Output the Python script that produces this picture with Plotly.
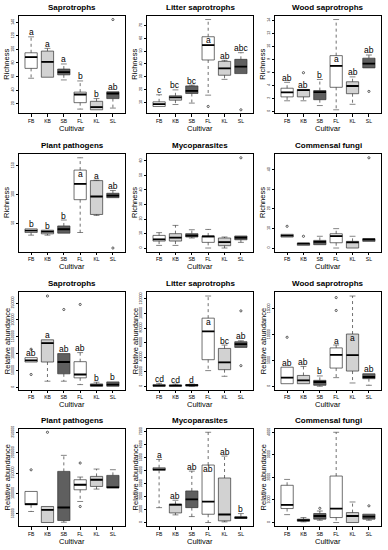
import plotly.graph_objects as go

CULTIVARS = ["FB", "KB", "SB", "FL", "KL", "SL"]
FILLS = ["#ffffff", "#d2d2d2", "#5f5f5f", "#ffffff", "#d2d2d2", "#5f5f5f"]

# ---------------- Richness ----------------
sap_rich = dict(
    lo=[57.5, 59, 55, 12, 11, 13.5],
    q1=[72, 59, 62.5, 21.5, 11, 27.5],
    med=[88.5, 81.5, 66.5, 33.5, 15, 35],
    q3=[95, 97.5, 71, 37, 23.5, 37.5],
    hi=[118.5, 101.5, 78.5, 53.5, 27.5, 37.5],
    out=[[], [], [], [], [], [144]],
    letters=["a", "a", "a", "b", "b", "ab"],
)
litter_rich = dict(
    lo=[6.9, 8.4, 9.5, 15.7, 28, 32.5],
    q1=[6.9, 11.8, 17, 43.1, 31.2, 32.5],
    med=[8.7, 13.9, 19, 54.7, 36.6, 37.9],
    q3=[10.5, 15.2, 22.9, 61.2, 42, 43.6],
    hi=[16, 19.8, 23.5, 74.6, 42.8, 48.8],
    out=[[], [], [], [6.9], [], [4.3]],
    letters=["c", "bc", "bc", "a", "ab", "abc"],
)
wood_rich = dict(
    lo=[1.63, 1.63, 0.9, 0.25, 1.09, 6.68],
    q1=[2.23, 2.23, 1.8, 3.7, 2.72, 6.68],
    med=[2.92, 3.27, 2.97, 6.98, 3.9, 7.33],
    q3=[3.56, 3.37, 3.2, 8.56, 4.55, 8.17],
    hi=[4.46, 3.37, 4.9, 14.1, 5.3, 8.66],
    out=[[], [5.94], [], [], [], [3.07]],
    letters=["ab", "ab", "b", "a", "ab", "ab"],
)
path_rich = dict(
    lo=[29.4, 29.4, 32.9, 34, 63.7, 94.6],
    q1=[34, 31.7, 32.9, 91.1, 65.4, 94.6],
    med=[37.4, 35.7, 39.7, 118.6, 96.6, 98.3],
    q3=[40.3, 38, 45.4, 142.6, 124.3, 102.3],
    hi=[40.3, 38, 55.7, 164, 125, 107],
    out=[[], [], [], [], [], [7]],
    letters=["b", "b", "b", "a", "a", "ab"],
)
myco_rich = dict(
    lo=[1.8, 1.8, 6.9, 0, 0, 3.9],
    q1=[4.8, 4.8, 7.6, 3.9, 1.6, 5.7],
    med=[6.0, 7.1, 8.5, 8.0, 4.1, 7.1],
    q3=[8.7, 9.9, 9.9, 8.3, 6.9, 8.3],
    hi=[10.6, 15.6, 12.6, 12.8, 7.6, 8.3],
    out=[[], [], [], [], [], [62.2]],
    letters=None,
)
comm_rich = dict(
    lo=[5.6, 1.36, 1.7, 0, 0, 3.4],
    q1=[5.6, 1.36, 1.7, 2.7, 0, 3.4],
    med=[6.3, 2.2, 3.1, 6.1, 2.9, 4.4],
    q3=[7.0, 2.55, 3.9, 7.3, 3.4, 4.8],
    hi=[7.0, 2.55, 6.0, 9.9, 6.0, 4.8],
    out=[[11.1], [6.0], [], [], [], [46.1]],
    letters=None,
)

# ---------------- Relative abundance ----------------
sap_ra = dict(
    lo=[75000, 18000, 18000, 8000, 3000, 3000],
    q1=[75000, 75000, 40000, 28000, 3000, 3000],
    med=[80000, 131000, 75000, 38000, 6000, 8000],
    q3=[88000, 141000, 100000, 76000, 10000, 16000],
    hi=[88000, 141000, 100000, 103000, 15000, 16000],
    out=[[113000, 38000], [271000], [231000], [246000], [], []],
    letters=["ab", "a", "ab", "ab", "b", "b"],
)
litter_ra = dict(
    lo=[0, 0, 0, 21500, 13700, 53400],
    q1=[0, 0, 500, 36500, 22800, 53400],
    med=[900, 900, 1400, 75300, 32900, 58000],
    q3=[2300, 1800, 2300, 93600, 52000, 61200],
    hi=[4100, 3000, 3000, 124000, 56600, 62500],
    out=[[], [], [], [], [], [103600, 28300]],
    letters=["cd", "cd", "d", "a", "bc", "ab"],
)
wood_ra = dict(
    lo=[500, 500, 0, 1670, 640, 190],
    q1=[500, 500, 190, 3530, 2950, 1470],
    med=[1670, 1150, 830, 6100, 6030, 1800],
    q3=[3700, 2100, 1150, 7440, 10130, 2430],
    hi=[3700, 3850, 2000, 8000, 17500, 2430],
    out=[[9500], [], [], [17200, 14700], [], []],
    letters=["ab", "ab", "b", "a", "a", "ab"],
)
path_ra = dict(
    lo=[55700, 28700, 29500, 80300, 110700, 113900],
    q1=[72100, 28700, 33600, 109000, 117200, 113900],
    med=[74000, 59800, 65600, 121300, 133600, 114800],
    q3=[104900, 68000, 154100, 133600, 141800, 144300],
    hi=[104900, 68000, 193400, 140200, 159800, 158200],
    out=[[158000], [250000], [], [174600, 68000], [], []],
    letters=None,
)
myco_ra = dict(
    lo=[1150, 590, 460, 0, 50, 310],
    q1=[4030, 740, 1150, 640, 130, 310],
    med=[4100, 1380, 1790, 1620, 620, 380],
    q3=[4230, 1410, 2440, 4440, 3440, 440],
    hi=[4870, 1720, 3970, 6970, 5130, 690],
    out=[[], [], [], [], [], []],
    letters=["a", "ab", "ab", "ab", "ab", "b"],
)
comm_ra = dict(
    lo=[350, 30, 100, 0, 0, 100],
    q1=[620, 60, 150, 220, 0, 150],
    med=[780, 100, 290, 620, 290, 260],
    q3=[1650, 150, 400, 2060, 440, 370],
    hi=[1910, 220, 510, 4000, 910, 370],
    out=[[], [], [630], [], [], [740]],
    letters=None,
)

PANELS = [
    ("Saprotrophs", "Richness", sap_rich, 20, 20),
    ("Litter saprotrophs", "Richness", litter_rich, 10, 10),
    ("Wood saprotrophs", "Richness", wood_rich, 2, 0),
    ("Plant pathogens", "Richness", path_rich, 50, 50),
    ("Mycoparasites", "Richness", myco_rich, 10, 0),
    ("Commensal fungi", "Richness", comm_rich, 10, 0),
    ("Saprotrophs", "Relative abundance", sap_ra, 50000, 0),
    ("Litter saprotrophs", "Relative abundance", litter_ra, 20000, 0),
    ("Wood saprotrophs", "Relative abundance", wood_ra, 5000, 0),
    ("Plant pathogens", "Relative abundance", path_ra, 50000, 50000),
    ("Mycoparasites", "Relative abundance", myco_ra, 1000, 0),
    ("Commensal fungi", "Relative abundance", comm_ra, 1000, 0),
]

W, H = 388, 550
COL_LEFT = [19, 147, 275]
COL_W = 106
ROW_TOP = [13, 152, 291, 428]
ROW_H = 98
BOX_W = 0.75
CAP_W = 0.36
FONT = "Liberation Sans, Arial, sans-serif"

fig = go.Figure()
layout = {}
annotations = []

for k, (title, ylab, d, dtick, tick0) in enumerate(PANELS):
    r, c = divmod(k, 3)
    sfx = "" if k == 0 else str(k + 1)
    xa, ya = "x" + sfx, "y" + sfx
    n = len(CULTIVARS)
    xs = list(range(n))
    vals = d["lo"] + d["hi"] + [v for o in d["out"] for v in o]
    vmin, vmax = min(vals), max(vals)
    span = vmax - vmin
    ylo, yhi = vmin - 0.04 * span, vmax + 0.04 * span

    # whiskers (dotted)
    wx, wy, cx, cy = [], [], [], []
    for i in xs:
        if d["hi"][i] > d["q3"][i]:
            wx += [i, i, None]
            wy += [d["q3"][i], d["hi"][i], None]
            cx += [i - CAP_W / 2, i + CAP_W / 2, None]
            cy += [d["hi"][i], d["hi"][i], None]
        if d["lo"][i] < d["q1"][i]:
            wx += [i, i, None]
            wy += [d["q1"][i], d["lo"][i], None]
            cx += [i - CAP_W / 2, i + CAP_W / 2, None]
            cy += [d["lo"][i], d["lo"][i], None]
    fig.add_trace(go.Scatter(x=wx, y=wy, mode="lines", xaxis=xa, yaxis=ya,
                             line=dict(color="#333333", width=0.7, dash="dot"),
                             showlegend=False, hoverinfo="skip"))
    fig.add_trace(go.Scatter(x=cx, y=cy, mode="lines", xaxis=xa, yaxis=ya,
                             line=dict(color="#333333", width=0.6),
                             showlegend=False, hoverinfo="skip"))
    # boxes
    for i in xs:
        fig.add_trace(go.Box(
            x=[i], q1=[d["q1"][i]], median=[d["med"][i]], q3=[d["q3"][i]],
            lowerfence=[d["q1"][i]], upperfence=[d["q3"][i]],
            width=BOX_W, fillcolor=FILLS[i], whiskerwidth=0,
            line=dict(color="#333333", width=0.7), boxpoints=False,
            xaxis=xa, yaxis=ya, showlegend=False, hoverinfo="skip"))
    # medians (thick)
    mx, my = [], []
    for i in xs:
        mx += [i - BOX_W / 2, i + BOX_W / 2, None]
        my += [d["med"][i], d["med"][i], None]
    fig.add_trace(go.Scatter(x=mx, y=my, mode="lines", xaxis=xa, yaxis=ya,
                             line=dict(color="#000000", width=1.8),
                             showlegend=False, hoverinfo="skip"))
    # outliers
    ox = [i for i in xs for _ in d["out"][i]]
    oy = [v for i in xs for v in d["out"][i]]
    fig.add_trace(go.Scatter(x=ox, y=oy, mode="markers", xaxis=xa, yaxis=ya,
                             marker=dict(symbol="circle-open", size=2.2, color="#000",
                                         line=dict(width=0.6)),
                             showlegend=False, hoverinfo="skip"))
    # letters
    if d["letters"]:
        for i in xs:
            if d["hi"][i] > vmax - 0.07 * span:
                ly = d["q3"][i] - 0.04 * span
            else:
                ly = d["hi"][i] + 0.05 * span
            annotations.append(dict(x=i, y=ly, xref=xa, yref=ya, text=d["letters"][i],
                                    showarrow=False, xanchor="center", yanchor="middle",
                                    font=dict(size=8.5, color="#000", family=FONT)))

    x0 = COL_LEFT[c] / W
    x1 = (COL_LEFT[c] + COL_W) / W
    y1 = 1 - ROW_TOP[r] / H
    y0 = 1 - (ROW_TOP[r] + ROW_H) / H
    layout["xaxis" + sfx] = dict(
        domain=[x0, x1], range=[-0.74, n - 1 + 0.74], anchor=ya,
        tickvals=xs, ticktext=CULTIVARS, showline=True, mirror=True,
        linecolor="#000", linewidth=0.8, ticks="outside", ticklen=2.5,
        tickwidth=0.6, tickcolor="#000", tickfont=dict(size=5, family=FONT, color="#000"),
        showgrid=False, zeroline=False)
    layout["yaxis" + sfx] = dict(
        domain=[y0, y1], range=[ylo, yhi], anchor=xa, tick0=tick0, dtick=dtick,
        tickformat="d", tickangle=-90, showline=True, mirror=True,
        linecolor="#000", linewidth=0.8, ticks="outside", ticklen=2.5,
        tickwidth=0.6, tickcolor="#000", tickfont=dict(size=3.6, family=FONT, color="#000"),
        showgrid=False, zeroline=False)

    annotations.append(dict(x=0.5, y=1, xref=xa + " domain", yref=ya + " domain",
                            text="<b>" + title + "</b>", showarrow=False,
                            xanchor="center", yanchor="bottom", yshift=2,
                            font=dict(size=8, color="#000", family=FONT)))
    annotations.append(dict(x=0.5, y=0, xref=xa + " domain", yref=ya + " domain",
                            text="Cultivar", showarrow=False,
                            xanchor="center", yanchor="middle", yshift=-15,
                            font=dict(size=7.5, color="#000", family=FONT)))
    annotations.append(dict(x=0, y=0.5, xref=xa + " domain", yref=ya + " domain",
                            text=ylab, showarrow=False, textangle=-90,
                            xanchor="center", yanchor="middle", xshift=-12,
                            font=dict(size=7.5, color="#000", family=FONT)))

fig.update_layout(
    width=W, height=H, margin=dict(l=0, r=0, t=0, b=0),
    paper_bgcolor="#fff", plot_bgcolor="#fff", boxmode="overlay",
    annotations=annotations, **layout)

fig.write_html("out.html", config={"displayModeBar": False},
               post_script="document.body.style.margin='0';document.body.style.padding='0';")
